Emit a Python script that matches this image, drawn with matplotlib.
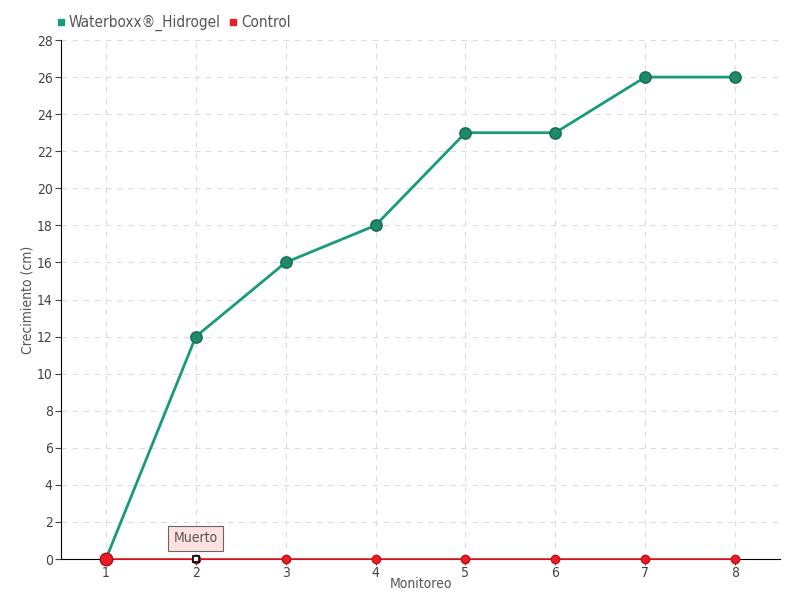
import matplotlib.pyplot as plt
from matplotlib.lines import Line2D

plt.rcParams['font.family'] = ['DejaVu Sans']
plt.rcParams['font.stretch'] = 'condensed'

monitoreo = [1, 2, 3, 4, 5, 6, 7, 8]
waterboxx = [0, 12, 16, 18, 23, 23, 26, 26]
control = [0, 0, 0, 0, 0, 0, 0, 0]
yticks = list(range(0, 29, 2))

green = '#1a9a7c'
red = '#ee1c25'
txt = '#555555'

fig = plt.figure(figsize=(8, 6), dpi=100)
ax = fig.add_axes([0.07625, 0.0683, 0.89875, 0.865])

ax.plot(monitoreo, waterboxx, color=green, lw=2.0, marker='o', ms=8,
        markerfacecolor='#1f8a6a', markeredgecolor='#17705a', markeredgewidth=1.2, zorder=4)
ax.plot(monitoreo, control, color=red, lw=1.2, marker='o', ms=6,
        markerfacecolor=red, markeredgecolor='#c0101a', zorder=5, clip_on=False)
ax.plot([monitoreo[0]], [control[0]], marker='o', ms=9, color=red,
        markeredgecolor='#a01018', zorder=6, clip_on=False)
ax.plot([monitoreo[1]], [control[1]], marker='s', ms=5, markerfacecolor='white',
        markeredgecolor='black', markeredgewidth=1.2, zorder=7, clip_on=False)

ax.annotate('Muerto', xy=(monitoreo[1], control[1]), xytext=(0, 15),
            textcoords='offset points', ha='center', va='center', fontsize=10, color=txt,
            bbox=dict(boxstyle='square,pad=0.4', fc='#fde0e0', ec='#666666', lw=0.8),
            zorder=8)

ax.set_xlim(0.5, 8.5)
ax.set_ylim(0, 28)
ax.set_xticks(monitoreo)
ax.set_yticks(yticks)
ax.tick_params(colors='#444444', labelsize=10, length=4)
ax.tick_params(axis='x', pad=1)
ax.tick_params(axis='y', pad=2)
ax.grid(True, ls=(0, (5, 5)), color='#dddddd', lw=0.8)
ax.set_axisbelow(True)
for s in ['top', 'right']:
    ax.spines[s].set_visible(False)
ax.spines['left'].set_color('black')
ax.spines['bottom'].set_color('black')

ax.set_xlabel('Monitoreo', fontsize=10, color=txt, labelpad=-2)
ax.set_ylabel('Crecimiento (cm)', fontsize=10, color=txt, labelpad=2)

handles = [Line2D([], [], ls='none', marker='s', ms=5, color=green),
           Line2D([], [], ls='none', marker='s', ms=5, color=red)]
fig.legend(handles, ['Waterboxx®_Hidrogel', 'Control'], loc='upper left',
           bbox_to_anchor=(0.05, 0.998), ncol=2, frameon=False, fontsize=11,
           handletextpad=0.0, columnspacing=0.3, handlelength=1.0, labelcolor=txt)

fig.savefig('out.png', dpi=100)
